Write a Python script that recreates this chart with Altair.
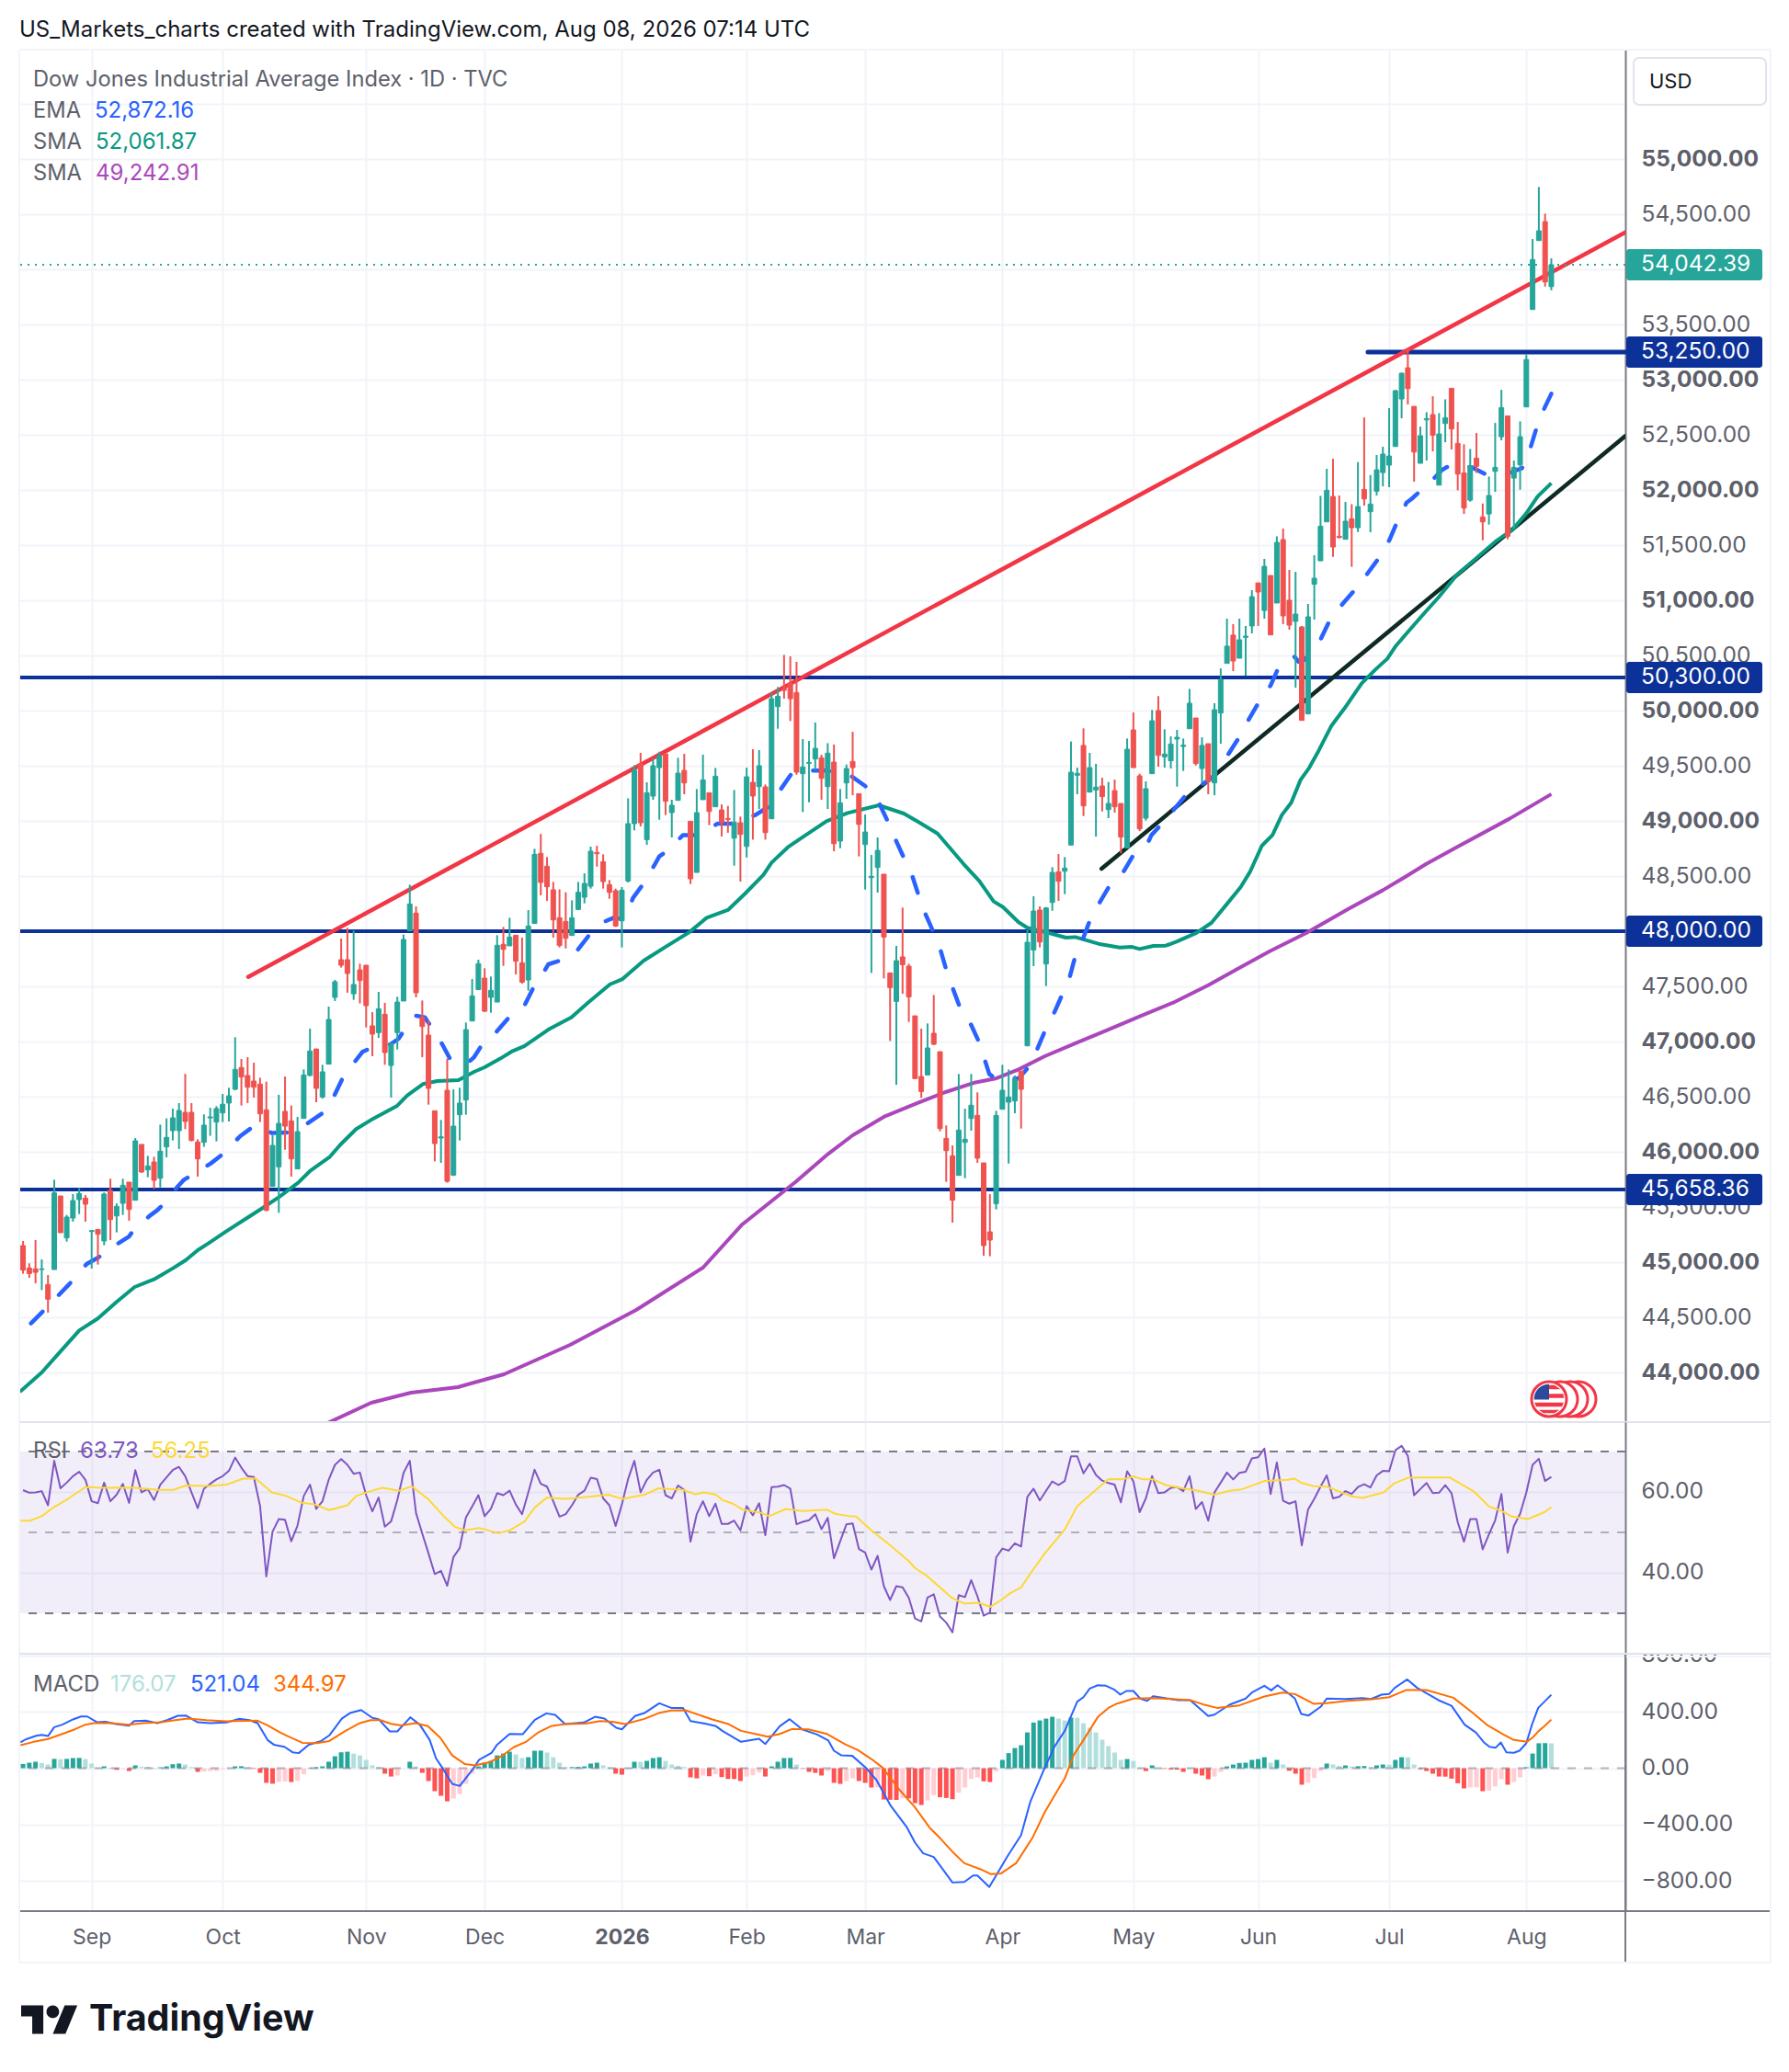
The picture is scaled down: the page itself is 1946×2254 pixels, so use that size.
import json
import math
import altair as alt
import pandas as pd

FONT = "Inter"
UP, DOWN = "#26a69a", "#ef5350"
GRID, SEP, AXIS = "#f2f4f9", "#e0e3eb", "#787b86"
TXT, TXT2, NAVY = "#131722", "#5d606b", "#0c3299"

first_bar = -11
# ---- candles: body top / body bottom / high / low, ten bars a line ----
direction = ("RRRGRGRGGG" "RGRGRGGRGR" "GRGGGGRRRG" "GGGGGRRRRR" "GGRRGGGRGG" "GRRGRRRGRG"
             "GGGRRRRGRG" "GGGGRGGRGR" "RGGRRRRRGG" "GGRRRRGGGR" "GGGRGGRRGG" "RGRRGRGRGR"
             "GGRRRGGGRG" "RGGRRGGGRR" "GRRRRGRRRR" "GGGRRRGGGG" "RGGRGGRGGG" "RGGRGRRGRR"
             "GGRGGGGGRG" "RGGGRGGGRG" "RGRRGRGGGG" "RRGRGRGGGG" "GGRRGGRGGR" "RRGRRGGGRG"
             "GGGGRG")
body_top = [
45150,44947,44939,44939,44797,45628,45600,45408,45558,45622,
45581,45286,45297,45617,45650,45506,45697,45725,46100,46067,
45872,45908,46006,46131,46308,46375,46358,46358,46089,46242,
46317,46392,46431,46508,46747,46764,46692,46642,46614,46381,
46058,46258,46367,46281,46183,46697,46914,46933,46725,47200,
47542,47742,47742,47517,47650,47692,47142,47297,47247,46983,
47358,47925,48247,48164,47220,47058,46372,46136,46558,46233,
46442,47108,47414,47706,47575,47464,47872,47881,47947,47964,
47714,48047,48697,48706,48589,48375,48122,48089,48122,48353,
48433,48725,48714,48630,48422,48367,48372,48975,49461,49517,
49255,49500,49586,49608,49142,49433,49458,48997,49075,49372,
49255,49405,49100,49022,48989,48983,49400,49350,49500,49308,
50108,50130,50197,50247,50164,49489,49530,49658,49572,49614,
49533,49164,49475,49539,49247,48900,48497,48733,48517,47622,
47733,47767,47683,47233,46683,46942,47075,46908,46122,45964,
46197,46114,46422,46330,45900,45275,46330,46558,46497,46658,
46733,47900,48183,48192,48211,48533,48539,48572,49442,49431,
49684,49483,49306,49317,49158,49275,49158,49650,49825,49408,
49292,49908,50000,49606,49697,49758,49686,50067,49933,49684,
49700,50008,50283,50584,50684,50642,50675,51033,51158,51308,
51225,51525,51550,51000,50875,50758,50850,51200,51672,51997,
51941,51580,51717,51739,51850,52005,51872,52183,52325,52308,
52900,53058,53108,52758,52492,52647,52683,52508,52655,52922,
52422,52155,52219,52289,51755,51950,52205,52747,52672,52205,
52483,53183,54089,54350,54433,54042]
body_bottom = [
44928,44897,44908,44933,44664,44933,45267,45220,45400,45567,
45525,45278,45253,45192,45386,45419,45533,45478,45561,45817,
45836,45742,45761,46045,46192,46192,46275,46103,45936,46086,
46308,46270,46353,46442,46567,46678,46586,46586,46345,45470,
45686,45864,46233,45936,45845,46303,46692,46575,46497,46795,
47400,47692,47617,47433,47553,47325,47067,47081,46900,46783,
47081,47367,48003,47442,47136,46575,46075,46125,45733,45789,
46336,46470,47186,47470,47275,47400,47358,47836,47867,47728,
47539,47558,48070,48442,48403,48103,47872,47936,47961,48197,
48308,48408,48703,48450,48353,48047,48094,48455,48975,48983,
48830,49225,49483,49178,49075,49186,49344,48475,48533,49192,
49086,49128,48983,49014,48844,48878,48769,49225,49311,48894,
49019,50036,50183,50108,49442,49428,49522,49561,49386,49311,
48794,48817,49344,49483,48969,48786,48486,48578,47947,47489,
47364,47697,47405,46664,46547,46697,46975,46211,46011,45561,
45786,46086,46303,45942,45150,45200,45530,46386,46450,46461,
46567,46961,47830,47903,47703,48261,48453,48544,48781,49414,
49136,49261,49281,49220,49103,49128,48853,48753,49483,48928,
49025,49428,49594,49581,49545,49742,49675,49836,49520,49475,
49358,49345,49978,50428,50450,50475,50664,50767,51075,50908,
50686,50975,50859,50775,50809,49911,49970,51145,51358,51711,
51483,51569,51553,51658,51658,51919,51803,51989,52158,52225,
52394,52825,52919,52344,52242,52636,52497,52044,52603,52553,
52144,51836,51908,52214,51711,51783,52169,52483,51580,52108,
52228,52753,53636,54261,53886,53844]
high = [
45192,44989,45200,45025,44883,45747,45600,45428,45617,45672,
45608,45286,45297,45631,45756,45533,45756,45725,46125,46067,
45964,45956,46247,46303,46392,46442,46706,46442,46114,46339,
46400,46414,46525,46581,47039,46842,46858,46808,46672,46636,
46150,46517,46683,46420,46317,46747,47117,46933,46789,47317,
47559,47934,48031,48006,47706,47692,47267,47450,47350,46983,
47406,47970,48422,48225,47372,47192,46372,46289,46845,46567,
46581,47172,47567,47742,47664,47589,47964,48039,48122,47964,
47942,48192,48747,48881,48673,48447,48380,48353,48280,48447,
48525,48767,48775,48697,48464,48386,48400,49205,49505,49617,
49350,49567,49628,49608,49192,49572,49608,48997,49289,49600,
49255,49480,49150,49136,49280,49039,49483,49650,49642,49330,
50164,50214,50505,50492,50442,49742,49725,49892,49600,49705,
49692,49289,49511,49808,49247,49058,48692,48850,48517,47622,
47867,48214,47705,47233,47117,47164,47422,46908,46239,46058,
46706,46392,46706,46539,45900,45617,46372,46789,46747,46692,
46733,48011,48317,48225,48219,48581,48700,48672,49720,49483,
49839,49617,49517,49392,49353,49375,49158,49747,49983,49428,
49358,50006,50131,49831,49767,49825,49747,50197,49933,49758,
49700,50067,50383,50834,50784,50834,50767,51092,51158,51375,
51225,51580,51650,51275,51258,50767,50967,51409,51947,52192,
52283,51950,51892,51872,52253,52658,52136,52317,52392,52742,
52908,53064,53289,52758,52575,52705,52850,52697,52822,52922,
52617,52414,52372,52516,51878,52122,52608,52908,52672,52267,
52622,53228,54275,54747,54505,54100]
low = [
44895,44858,44808,44747,44542,44933,45267,45186,45367,45436,
45367,44942,44978,45153,45200,45270,45428,45375,45561,45811,
45770,45664,45678,45950,46103,46025,46206,46095,45775,46045,
46145,46095,46270,46275,46558,46420,46442,46492,46270,45461,
45686,45447,46019,45775,45845,46303,46686,46450,46483,46795,
47367,47670,47442,47378,47345,47128,46867,47033,46789,46492,
46928,47367,48003,47400,46858,46428,45914,45900,45720,45781,
46103,46336,47186,47470,47267,47261,47358,47686,47867,47608,
47525,47461,48070,48325,48275,47941,47853,47844,47961,48191,
48253,48386,48586,48386,48294,48039,47853,48442,48914,48950,
48783,49192,49011,49053,48850,49186,49242,48428,48533,49192,
48961,49128,48858,48892,48594,48450,48669,48830,49108,48830,
49019,49836,50108,49905,49419,49080,49169,49461,49192,49108,
48725,48753,49200,49233,48678,48378,47622,48350,47572,47005,
46608,47433,47178,46664,46489,46692,46969,46186,45728,45358,
45786,45761,46192,45900,45058,45053,45478,46386,45894,46350,
46211,46961,47683,47853,47503,48186,48275,48336,48781,49242,
49044,49261,48858,49086,49025,49075,48706,48753,49483,48908,
49003,49428,49492,49483,49475,49311,49453,49836,49503,49350,
49242,49233,49700,50428,50358,50475,50317,50700,50767,50833,
50686,50975,50784,50733,50208,49911,49970,50825,51358,51711,
51394,51561,51553,51303,51619,51858,51617,51950,52033,52025,
52394,52650,52775,52075,52242,52267,52350,52044,52433,52367,
51997,51783,51894,52155,51544,51686,51983,52450,51553,51650,
52003,52753,53636,54261,53844,53811]

# ---- moving averages: bar number, value ----
ema_bar = [-10,-7,-3.8,-3,-0.8,1,1.8,4.6,6,6.8,9.3,10.5,11.6,13.8,14.8,16.2,19.1,21.3,23.8,26.2,28.9,31.5,34.7,37,38.9,40.2,42.3,43.4,44.6,47.9,49.2,49.9,52,53.4,54.4,56.2,57.7,60.5,61.3,62.3,64.7,66.7,69.3,70.7,72.6,73.2,75,77.9,79.7,82.3,83.7,85.4,86.8,88.6,90.3,91,92.4,94.8,97.5,100.3,102.9,106.4,108.5,110.5,112.2,115.6,117.8,121.8,124,126.1,127.5,128.8,130.1,131.5,132.5,133.6,134.9,136.1,137,138.1,139.2,141,142.3,143.3,143.9,144.9,148.6,150,151.5,152.7,154.2,155.5,156.8,157.6,158.9,160,161.6,163.2,165.5,167.1,169.5,169.9,171.4,173.5,175.6,178.4,179.8,182.2,183.9,185.5,187.1,189,190.2,192.8,193.5,194.5,197.1,198.4,200.5,202.5,204.6,206.4,208.1,209.3,210.8,211.6,213.1,215.5,216.4,218,221.3,224,226.7,229.3,230.6,231.5,232.7,234]
ema_val = [44430,44600,44789,44836,44983,45039,45075,45183,45233,45297,45420,45470,45531,45686,45747,45794,45895,45992,46142,46242,46170,46175,46261,46350,46511,46664,46825,46906,46936,46975,47025,47086,47234,47220,47136,46975,46817,46817,46858,46947,47075,47206,47317,47475,47641,47700,47733,47830,47961,48089,48122,48108,48303,48442,48608,48678,48733,48872,48872,48975,48975,49053,49128,49289,49428,49456,49456,49405,49317,49178,49011,48839,48678,48511,48336,48164,47997,47825,47650,47475,47308,47150,46989,46811,46705,46664,46664,46755,46919,47080,47247,47414,47586,47755,47928,48094,48261,48414,48547,48700,48822,48872,48964,49103,49247,49345,49400,49603,49753,49920,50075,50228,50381,50489,50442,50461,50656,50809,50964,51095,51248,51386,51553,51714,51886,51919,51997,52122,52178,52233,52205,52128,52144,52197,52372,52539,52719,52872]
sma50_bar = [-11.5,-8,-5,-2,1,4,6.9,10,13.1,15.1,17,18.7,21.6,24.9,27.2,30,33.1,35.1,38.2,39.9,42.4,45.2,48.9,50.6,53.1,55.4,58.8,61.3,63,65.5,67.5,69.4,73.2,76.9,79.7,83.1,85.1,88.5,92.4,95.8,98.6,102,104.8,107.7,109,111.6,114.1,117.8,121.2,126.2,130.2,132.5,135.6,137.5,139.8,142.3,144.6,146.1,148.6,150,153.5,156.2,157.7,161.4,164.8,166.8,168,170.2,172.2,174,177.1,179.5,182,184.2,185.7,187.6,189.3,190.8,192.3,193.8,195.2,196.7,198.7,200.9,203.6,205.8,207.7,209,210.9,213.9,215.9,218.9,221.5,225.2,227.7,230,231.8,234]
sma50_val = [43825,44000,44190,44380,44490,44640,44775,44844,44947,45019,45108,45170,45280,45400,45483,45589,45720,45831,45956,46067,46206,46303,46414,46511,46614,46642,46650,46725,46767,46845,46914,46960,47108,47219,47358,47519,47566,47733,47872,47991,48122,48192,48344,48511,48622,48761,48858,48997,49072,49142,49067,48992,48886,48761,48608,48456,48270,48219,48081,48031,47983,47942,47947,47886,47853,47858,47839,47867,47869,47908,47985,48075,48247,48400,48539,48775,48872,49053,49164,49372,49483,49636,49858,50025,50247,50372,50470,50581,50706,50900,51025,51233,51358,51539,51636,51789,51941,52062]
sma200_bar = [37.5,44.8,51.2,58.7,66.1,76.7,87.3,98,104.3,112.8,118.1,122,127,132.4,137,141.7,144.9,148.6,152.8,157.9,162.8,168.2,173.6,179,183.9,188.8,194.7,201.6,207,210.5,213.9,218.8,227.3,234]
sma200_val = [43533,43725,43817,43867,43983,44250,44567,44950,45342,45725,45983,46150,46317,46442,46544,46630,46664,46747,46867,46989,47103,47233,47358,47511,47664,47817,47983,48206,48372,48490,48608,48760,49020,49243]

# ---- drawings ----
line_span = [-11.6, 245.87]
red_bar, red_val = [25.1, 245.87], [47586, 54336]
black_bar, black_val = [161.9, 245.87], [48567, 52489]
levels = [50300.00, 48000.00, 45658.36]
short_level, short_level_from = 53250.00, 204.6
last_price = 54042.39
grid_prices = list(range(44000, 56000, 500))
month_bar = [0, 21, 44, 63, 85, 105, 124, 146, 167, 187, 208, 230]
month_lab = ["Sep", "Oct", "Nov", "Dec", "2026", "Feb", "Mar", "Apr", "May", "Jun", "Jul", "Aug"]

# ---- RSI ----
rsi = [
60.45,59.8,59.9,60.2,56.7,67.7,60.9,62.3,63.9,65,
63,57.7,57.2,62.3,57.7,59.3,62,57.3,65.4,59.9,
60.7,58,61.8,63.6,65.4,66.2,63.9,59.9,56,60.8,
62,63.1,63.9,65.2,68.5,66,63.9,63.7,56.5,39.1,
50.2,53.3,53.1,47.8,51.7,59,61.8,55.8,57.7,63,
66.7,68.1,66.7,64.5,64.8,59.2,55.2,58.6,51.4,52.7,
58,64.7,67.7,54.8,49.7,44.8,39.7,40.5,36.8,43.9,
46.1,53.7,56.4,59.2,54,55.8,59.7,59.2,60.3,56.9,
54.5,59.9,65.5,62,61.3,57.7,53.9,54.5,56.7,59.3,
60.3,63.5,63.2,58.4,56.7,51.6,56.9,63.2,67.7,59.9,
63,64.8,65.5,59.2,58.4,61.6,60.5,47.7,54.5,57.7,
54,57.1,52.1,52.1,52.9,50.5,56.5,54.2,57.2,49.3,
61.2,61.3,61.7,60.8,52,52.6,53,54.5,50.8,53.6,
43.6,47.8,52,52.2,45.9,45,40.8,44.2,36.7,33.3,
36.7,36.4,33.8,28.7,28,33.9,34.7,29.2,27.7,25.3,
34.5,34,38.2,34.2,29.4,30.2,43.8,46,45.5,47.3,
46.5,58.8,60.8,57.9,60.3,62.6,61.7,62.7,68.8,68.8,
64.6,67,64.2,62.8,62.2,61.8,57.4,65.1,62.6,55,
58.4,63.9,59.7,59.9,61,61.2,60.2,63.9,55.8,57.5,
52.9,59.9,62.3,64.8,63.1,64.7,65,68.3,68.6,70.7,
59.5,67.3,57.8,57.1,57.7,46.8,55.6,58.3,61.3,64.1,
58.4,58.8,60.2,59.5,61.2,61.9,61.1,64.1,65.2,65.1,
70.3,71.4,68.9,59.2,60.7,62.2,59.7,59.8,61.7,59.7,
52.5,47.7,53.3,53.3,45.8,49.5,53,59.5,45,51.6,
54.6,59.9,66.7,68.2,62.7,63.73]
rsi_ma_bar = [-11.4,-9.9,-8,-6,-3.7,-1,1.9,6.5,10.8,13.1,15.1,19,21.6,24.3,26.3,28.9,31.2,33.5,35.8,38.1,41,42.4,44.7,46.6,49.3,51.3,53.9,56.5,58.2,59.8,62.1,65.2,67,69.4,71,73,75.9,78.9,82.8,85.1,88.6,90.9,94.8,96.8,98.2,100.1,101.1,102.8,104.4,107.4,108.6,111.3,113.9,117.9,119.2,121.5,122.5,125,128.1,131,132,134,137.9,139.9,142.2,144.1,145.8,147.2,149,150.8,152.8,156,158,160.1,163,165.3,167,168.6,170.2,172.2,174.8,177.4,180,182.4,184.3,188,191.8,192.8,194,195.9,198,202,203.8,207.1,208.9,211,214,217.7,221.6,224,225.9,227.7,230.2,232.9,234]
rsi_ma_val = [52.9,52.9,54,56.3,58.4,61.2,61,61.1,60.5,60.5,61.6,61.5,61.8,63.3,63.3,59.9,59,57.4,56.9,55.5,56.7,59,60.2,61,60.3,61.4,58.3,53.9,51.4,50.5,51.1,49.8,50.5,52.7,56.1,58.6,58.3,58.7,59.3,58.3,59.3,60.9,60.5,59.4,59.9,59.3,58,57.1,55.6,54.8,54,55.8,55.3,55.6,54.6,54,54,50.5,46.7,42.9,41.2,39.1,33.8,32.4,32.6,31.6,33.3,34.9,36.4,40.5,44.8,50.7,56.5,59.3,63.2,63.1,63.8,63.1,63.1,61.7,60.9,60.3,59.3,60.3,60.6,62.7,63,63.3,62.2,61.4,61.3,58.9,58.5,59.9,62.2,63.5,63.6,63.6,60.1,56.4,55.4,53.9,53.3,55,56.25]

# ---- MACD ----
macd_hist = [
30,39,46,37,26,66,64,66,72,73,
65,33,4,13,-2,-11,-4,-20,20,11,
10,-2,6,13,28,33,26,9,-26,-24,
-20,-19,-7,-2,13,14,7,-4,-33,-104,
-110,-98,-93,-98,-89,-43,4,7,13,46,
85,113,117,104,91,59,20,9,-39,-59,
-52,-2,46,13,-33,-91,-163,-196,-235,-215,
-183,-111,-39,13,39,52,91,104,117,98,
72,78,124,125,111,78,39,7,8,9,
13,33,39,20,7,-39,-46,2,46,45,
52,72,78,52,26,17,9,-65,-72,-52,
-57,-43,-63,-76,-77,-91,-59,-50,-30,-59,
13,46,72,73,26,-4,-26,-33,-52,-20,
-104,-111,-91,-72,-91,-104,-137,-136,-222,-224,
-225,-213,-214,-248,-261,-228,-191,-206,-211,-220,
-174,-137,-76,-65,-93,-98,-22,59,107,143,
163,254,324,339,352,365,352,339,359,358,
319,287,254,202,157,111,59,65,52,-1,
-20,20,1,-4,-9,-10,-26,-2,-39,-52,
-78,-59,-26,13,26,37,39,59,65,78,
39,59,26,-18,-39,-117,-104,-70,-20,33,
26,15,20,13,14,15,7,20,26,25,
59,78,77,26,-7,-20,-39,-59,-60,-74,
-107,-143,-137,-135,-163,-159,-130,-78,-117,-98,
-65,7,104,177,178,176.07]
macd_bar = [-11.4,-10.6,-8.9,-8,-7,-6,-4.7,-3,-1.7,-0.7,0.9,2.2,3.9,6,6.8,8.8,10.5,12.1,13.8,15.1,17,19,21.6,23.6,25.3,26.6,28.2,29.2,30.9,32.2,33.2,34.8,36.8,38.1,40.1,41.4,43.2,45,46,47.8,49,51.1,52.6,54.2,55.2,56.2,57.8,59,61.1,62.1,64.1,65,67,69.1,71,72.9,74.3,75.9,78.9,80.7,82.2,84.1,85,87.1,88.6,91,92.9,94.8,96,98.5,100.1,101.1,104.1,107,108,110.3,111.9,113.9,116.3,118.1,119,120.2,121.9,124.1,125.8,128.1,130.7,132,133.3,135,138,139.9,141.3,142,143.9,146.8,149,150.5,152.8,154.4,156,158,159,160,161.3,162.6,163.9,164.9,165.9,167,168.1,169.2,170.2,174.2,176.1,179,180,182.4,185,186,188,189.1,190.1,191.8,192.9,193.9,195.1,197.1,198,201,203.7,205.1,206.8,208,208.9,210.9,212.5,215.9,218,220.1,221.9,223.2,224.1,225.1,225.9,226.8,228,228.9,230,230.9,231.9,232.9,234]
macd_val = [183,204,230,237,228,291,309,346,367,367,326,330,313,302,335,337,320,341,372,374,326,320,324,350,341,320,200,167,152,113,107,167,193,233,352,391,413,357,348,261,261,361,309,200,70,4,-111,-126,-7,59,109,167,243,241,341,389,378,313,324,365,352,287,276,370,391,461,428,428,335,315,298,265,187,209,172,298,348,276,239,196,124,91,89,4,-83,-267,-420,-528,-604,-630,-811,-807,-761,-761,-843,-626,-474,-235,4,157,265,472,504,565,589,585,559,522,548,548,494,478,511,483,483,370,380,450,494,537,585,552,589,533,494,385,374,439,494,491,498,491,522,526,570,630,570,483,443,309,254,183,152,146,183,113,109,124,178,309,428,472,521.04]
signal_bar = [-11.4,-9.3,-7,-4.7,-2.7,-1,0.3,3.2,5.9,8.2,11.1,13.4,15.4,18.4,21.6,26.6,28.2,30.2,31.5,33.8,36.1,38.1,40.7,43,44.7,46.3,48,49.6,51.9,53.9,55.9,57.8,59.8,61.4,63.8,65.7,67.7,69.7,71.6,73.6,75.9,79.2,81.5,83.5,85.5,88.6,90.9,92.9,95.2,99.5,102.1,104.1,106.4,108.4,110.3,112.3,114.9,117.9,120.9,122.8,125,126.8,129.4,132,134.3,136,138,139.9,142.5,144.2,145.8,148.2,150.8,152.8,154.4,156,157.4,159,161.3,163,164.3,167,170.2,176.1,178.1,180.4,184,188,190.9,192.9,195.9,198,201.3,205.3,208,210.7,214,218.3,221.3,223.8,226.2,228,230.1,231.1,232,232.9,234]
signal_val = [163,187,207,243,276,309,320,320,309,320,326,341,352,341,333,337,304,254,226,180,178,193,265,320,341,341,315,304,320,298,215,91,30,20,43,85,150,189,254,298,313,317,335,330,313,350,391,409,411,346,313,265,243,224,243,278,276,243,167,130,65,4,-148,-278,-420,-496,-593,-674,-717,-752,-746,-674,-496,-311,-191,-72,91,200,363,428,457,494,498,483,454,428,446,509,537,526,457,461,478,489,504,554,554,500,396,304,243,200,187,222,265,298,344.97]
macd_ticks = [800, 400, 0, -400, -800]
rsi_ticks = [60, 40]

# ---- tables ----
bars = list(range(first_bar, first_bar + len(body_top)))
assert len(direction) == len(body_top) == len(body_bottom) == len(high) == len(low) == len(rsi) == len(macd_hist) == 246
assert len(ema_bar) == len(ema_val) and len(sma50_bar) == len(sma50_val) and len(sma200_bar) == len(sma200_val)
assert len(rsi_ma_bar) == len(rsi_ma_val) and len(macd_bar) == len(macd_val) and len(signal_bar) == len(signal_val)

candles = pd.DataFrame({"i": bars, "top": body_top, "bot": body_bottom, "hi": high, "lo": low, "dir": list(direction)})
hist_kind = []
for n, v in enumerate(macd_hist):
    prev = macd_hist[n - 1] if n else 0
    hist_kind.append(("a" if v > prev else "b") if v >= 0 else ("c" if v < prev else "d"))
hist_df = pd.DataFrame({"i": bars, "v": macd_hist, "zero": 0, "kind": hist_kind})

W = 1747
H_MAIN, H_RSI, H_MACD = 1493, 253, 279
LABEL_SIZE = 24.5
xs = alt.Scale(domain=line_span, nice=False, zero=False, padding=0)
ys = alt.Scale(domain=[43550, 55992], nice=False, zero=False)
rs = alt.Scale(domain=[19.77, 77.27], nice=False, zero=False)
ms = alt.Scale(domain=[-1014, 805.6], nice=False, zero=False)
one = alt.Data(values=[{}])

# the EMA's dash pattern is phased so that a dash finishes on the last value, as it does in the chart
DASH_ON, DASH_OFF = 18, 25.3
px_per_bar = W / (line_span[1] - line_span[0])
px_per_point = H_MAIN / (55992 - 43550)
ema_length = sum(math.hypot((ema_bar[k + 1] - ema_bar[k]) * px_per_bar, (ema_val[k + 1] - ema_val[k]) * px_per_point)
                 for k in range(len(ema_bar) - 1))
ema_phase = (DASH_ON - ema_length) % (DASH_ON + DASH_OFF)


def x_axis(labels=False):
    kw = dict(values=month_bar, title=None, grid=True, gridColor=GRID, gridWidth=2, domain=False, ticks=False,
              labels=labels)
    if labels:
        lookup = json.dumps({str(b): m for b, m in zip(month_bar, month_lab)})
        kw.update(labelExpr=lookup + "[datum.value]", labelFont=FONT, labelFontSize=23, labelColor=TXT2,
                  labelPadding=17, labelFontWeight={"condition": {"test": "datum.value === 85", "value": 700}, "value": 400},
                  labelOverlap=False, labelBound=False, labelFlush=False, labelAngle=0)
    return alt.Axis(**kw)


def y_axis(values, expr, **kw):
    opts = dict(values=values, orient="right", title=None, grid=True, gridColor=GRID, gridWidth=2, domain=True,
                domainColor=AXIS, domainWidth=2, ticks=False, labelFont=FONT, labelFontSize=LABEL_SIZE, labelColor=TXT2,
                labelPadding=17, labelOverlap=False, labelBound=False, labelFlush=False, labelExpr=expr)
    opts.update(kw)
    return alt.Axis(**opts)


# every layer of a pane carries the same axes, so Vega-Lite merges them into one
main_x, rsi_x, macd_x = x_axis(), x_axis(), x_axis(True)
# 55,500 sits under the USD box, 54,000 and 48,000 sit wholly under their price tags
main_y = y_axis(grid_prices,
                "datum.value > 55000 || datum.value === 54000 || datum.value === 48000 ? '' : format(datum.value, ',.2f')",
                labelFontWeight={"condition": {"test": "datum.value % 1000 === 0", "value": 700}, "value": 400})
rsi_y = y_axis(rsi_ticks, "format(datum.value, '.2f')")
macd_y = y_axis(macd_ticks, "format(datum.value, ',.2f')")
AXES = {"main": (ys, main_x, main_y), "rsi": (rs, rsi_x, rsi_y), "macd": (ms, macd_x, macd_y)}


def X(field, pane):
    return alt.X(field + ":Q", scale=xs, axis=AXES[pane][1])


def Y(field, pane):
    return alt.Y(field + ":Q", scale=AXES[pane][0], axis=AXES[pane][2])


def series(xv, yv, pane, color, width=2, **kw):
    d = pd.DataFrame({"x": xv, "y": yv})
    return alt.Chart(d).mark_line(color=color, strokeWidth=width, strokeJoin="round", clip=True, **kw).encode(
        x=X("x", pane), y=Y("y", pane))


def label(text, x, y, color=TXT2, size=24, weight=400, align="left"):
    return alt.Chart(one).mark_text(text=text, font=FONT, fontSize=size, fontWeight=weight, color=color,
                                    align=align, baseline="middle").encode(x=alt.value(x), y=alt.value(y))


def hrule(x0, x1, y, color, width=2):
    return alt.Chart(one).mark_rule(color=color, strokeWidth=width).encode(
        x=alt.value(x0), x2=alt.value(x1), y=alt.value(y))


def vrule(x, y0, y1, color, width=2):
    return alt.Chart(one).mark_rule(color=color, strokeWidth=width).encode(
        x=alt.value(x), y=alt.value(y0), y2=alt.value(y1))


def level(pane, values, **kw):
    d = pd.DataFrame({"v": values})
    return alt.Chart(d).mark_rule(**kw).encode(y=Y("v", pane))


# ---- main pane ----
cand_scale = alt.Scale(domain=["G", "R"], range=[UP, DOWN])
cand_color = alt.Color("dir:N", scale=cand_scale, legend=None)
short_df = pd.DataFrame({"v": [short_level], "a": [short_level_from], "b": [line_span[1]]})
tag_values = levels + [short_level]
tags = pd.DataFrame({"v": tag_values, "hi": [v + 142 for v in tag_values], "lo": [v - 142 for v in tag_values]})
price_df = pd.DataFrame({"v": [last_price], "hi": [last_price + 142], "lo": [last_price - 142]})


def tag_layer(df, color):
    rect = alt.Chart(df).mark_rect(color=color, cornerRadius=3).encode(
        x=alt.value(1748), x2=alt.value(1896), y=Y("hi", "main"), y2="lo:Q")
    txt = alt.Chart(df).mark_text(color="white", font=FONT, fontSize=LABEL_SIZE, align="left", baseline="middle").encode(
        x=alt.value(1764), y=Y("v", "main"), text=alt.Text("v:Q", format=",.2f"))
    return [rect, txt]


r = 0.86
def chord(y):
    return math.sqrt(max(r * r - y * y, 0))
def stripe(y0, y1, xl=None):
    l0 = -chord(y0) if xl is None else xl
    l1 = -chord(y1) if xl is None else xl
    return f"M{l0:.3f} {y0}L{chord(y0):.3f} {y0}L{chord(y1):.3f} {y1}L{l1:.3f} {y1}Z"
red_stripes = stripe(-0.8, -0.56, 0) + stripe(-0.3, -0.06, 0) + stripe(0.2, 0.44) + stripe(0.62, 0.8)
canton = f"M0 0.02L-{r} 0.02A{r} {r} 0 0 1 0 -{r}Z"
logo = ("M-0.222 0.5L-0.611 0.5L-0.611 -0.111L-1 -0.111L-1 -0.5L-0.222 -0.5Z"
        "M0.556 0.5L0.111 0.5L0.528 -0.5L0.972 -0.5Z"
        "M-0.111 -0.278A0.222 0.222 0 1 0 0.333 -0.278A0.222 0.222 0 1 0 -0.111 -0.278Z")


def icon(x, y, shape, size, fill, stroke=None, sw=0):
    kw = dict(stroke=stroke, strokeWidth=sw) if stroke else dict(strokeWidth=0)
    return alt.Chart(one).mark_point(shape=shape, size=size, fill=fill, filled=True, opacity=1, **kw).encode(
        x=alt.value(x), y=alt.value(y))


main = alt.layer(
    level("main", levels, color=NAVY, strokeWidth=4),
    alt.Chart(short_df).mark_rule(color=NAVY, strokeWidth=5, strokeCap="round").encode(
        x=X("a", "main"), x2="b:Q", y=Y("v", "main")),
    series(red_bar, red_val, "main", "#f23645", 4.5, strokeCap="round"),
    series(black_bar, black_val, "main", "#0f2a24", 4.5, strokeCap="round"),
    series(sma200_bar, sma200_val, "main", "#ab47bc", 4),
    series(sma50_bar, sma50_val, "main", "#089981", 4),
    series(ema_bar, ema_val, "main", "#2962ff", 4.5, strokeCap="round",
           strokeDash=[DASH_ON, DASH_OFF], strokeDashOffset=ema_phase),
    level("main", [last_price], color=UP, strokeWidth=2, strokeDash=[2, 6]),
    alt.Chart(candles).mark_rule(strokeWidth=2).encode(
        x=X("i", "main"), y=Y("hi", "main"), y2="lo:Q", color=cand_color),
    alt.Chart(candles).mark_bar(size=5, strokeWidth=1).encode(
        x=X("i", "main"), y=Y("top", "main"), y2="bot:Q",
        color=cand_color, stroke=alt.Stroke("dir:N", scale=cand_scale, legend=None)),
    *tag_layer(tags, NAVY), *tag_layer(price_df, UP),
    icon(1696, 1468, "circle", 1444, "white", "#f23645", 3),
    icon(1687, 1468, "circle", 1444, "white", "#f23645", 3),
    icon(1676, 1468, "circle", 1444, "white", "#f23645", 3),
    icon(1664, 1468, "circle", 1444, "white", "#f23645", 3),
    icon(1664, 1468, red_stripes, 1444, "#f23645"),
    icon(1664, 1468, canton, 1444, "#2b4a9b"),
    alt.Chart(one).mark_rect(fill="white", stroke=SEP, strokeWidth=2, cornerRadius=6).encode(
        x=alt.value(1756), x2=alt.value(1900), y=alt.value(9), y2=alt.value(60)),
    label("USD", 1773, 35, TXT, 22),
    label("US_Markets_charts created with TradingView.com, Aug 08, 2026 07:14 UTC", 0, -21, TXT, 24),
    label("Dow Jones Industrial Average Index · 1D · TVC", 15, 33, size=23.7),
    label("EMA", 15, 67, size=23.7), label("52,872.16", 82, 67, "#2962ff"),
    label("SMA", 15, 101, size=23.7), label("52,061.87", 83, 101, "#089981"),
    label("SMA", 15, 135, size=23.7), label("49,242.91", 83, 135, "#ab47bc"),
    hrule(0, 1905, 0, GRID), vrule(0, 0, H_MAIN, GRID), vrule(1905, 0, H_MAIN, GRID),
    hrule(0, 1905, H_MAIN, SEP),
).properties(width=W, height=H_MAIN)

# ---- RSI pane ----
band = alt.Chart(one).mark_rect(color="#7e57c2", opacity=0.1).encode(
    y=alt.Y(datum=70, scale=rs, axis=rsi_y), y2=alt.Y2(datum=30))
rsi_pane = alt.layer(
    band,
    level("rsi", [70, 30], color=AXIS, strokeWidth=2, strokeDash=[9, 9]),
    level("rsi", [50], color=AXIS, opacity=0.55, strokeWidth=2, strokeDash=[9, 9]),
    series(bars, rsi, "rsi", "#7e57c2", 2),
    series(rsi_ma_bar, rsi_ma_val, "rsi", "#fdd835", 2),
    label("RSI", 15, 32), label("63.73", 66, 32, "#7e57c2"), label("56.25", 143, 32, "#fdd835"),
    vrule(0, 0, H_RSI, GRID), vrule(1905, 0, H_RSI, GRID),
).properties(width=W, height=H_RSI)

# ---- MACD pane ----
hist_color = alt.Color("kind:N", scale=alt.Scale(domain=["a", "b", "c", "d"],
                                                 range=[UP, "#b2dfdb", "#ff5252", "#ffcdd2"]), legend=None)
macd_pane = alt.layer(
    alt.Chart(hist_df).mark_bar(size=5).encode(
        x=X("i", "macd"), y=Y("v", "macd"), y2="zero:Q", color=hist_color),
    level("macd", [0], color=AXIS, opacity=0.55, strokeWidth=2, strokeDash=[9, 9]),
    series(macd_bar, macd_val, "macd", "#2962ff", 2),
    series(signal_bar, signal_val, "macd", "#ff6d00", 2),
    alt.Chart(one).mark_rect(fill="white").encode(
        x=alt.value(1749), x2=alt.value(1904), y=alt.value(-14), y2=alt.value(0)),
    hrule(0, 1905, -1, SEP), hrule(0, 1905, 2, GRID),
    label("MACD", 15, 33), label("176.07", 99, 33, "#b2dfdb"),
    label("521.04", 186, 33, "#2962ff"), label("344.97", 276, 33, "#ff6d00"),
    hrule(0, 1905, H_MACD, AXIS), vrule(1747, 0, 335, AXIS),
    vrule(0, 0, 335, GRID), vrule(1905, 0, 335, GRID), hrule(0, 1905, 335, GRID),
    icon(33, 397, logo, 3844, TXT),
    label("TradingView", 76, 397, TXT, 39.5, 700),
).properties(width=W, height=H_MACD)

chart = alt.vconcat(main, rsi_pane, macd_pane, spacing=0, bounds="flush").properties(
    padding={"left": 11, "top": 13, "right": 5, "bottom": 5}, background="white"
).resolve_scale(color="independent", stroke="independent").configure_view(stroke=None)

chart.save("out.html", embed_options={"renderer": "svg", "actions": False})
